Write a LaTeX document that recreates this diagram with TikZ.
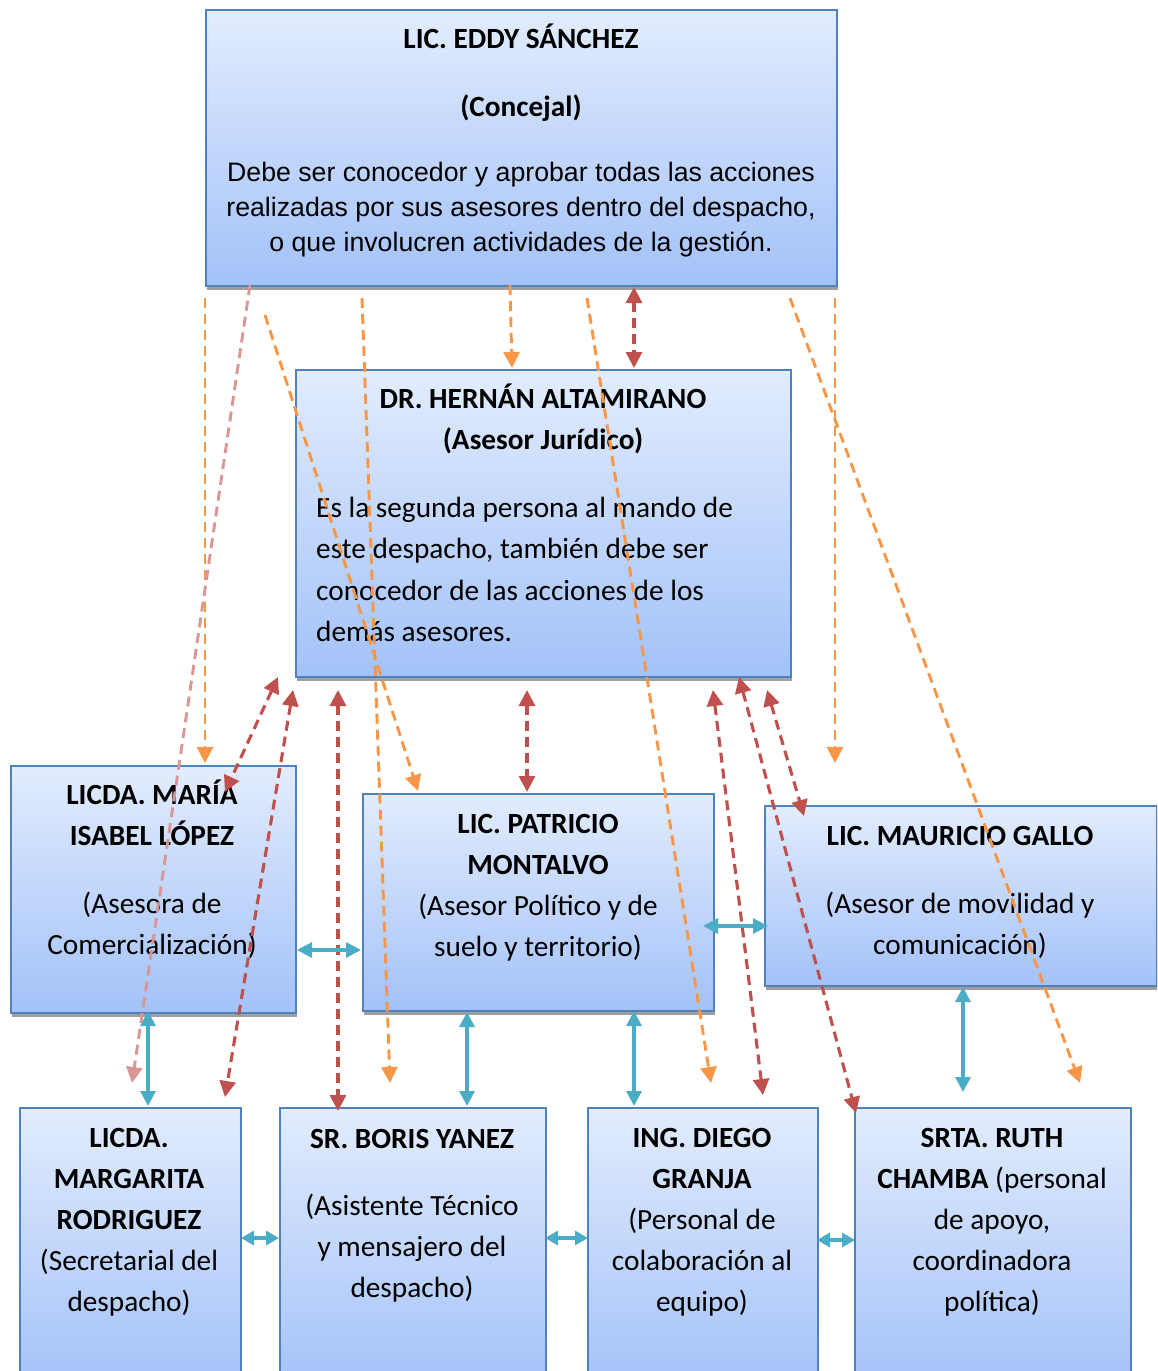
\documentclass[tikz,border=0pt]{standalone}
\usepackage{fontspec}
\setmainfont{Carlito}
\newfontfamily\arialfont{Liberation Sans}
\usetikzlibrary{arrows.meta,shadows}

\definecolor{boxedge}{RGB}{79,129,189}
\definecolor{boxtop}{RGB}{226,236,253}
\definecolor{boxbottom}{RGB}{163,194,249}
\definecolor{linkorange}{RGB}{247,150,70}
\definecolor{linkred}{RGB}{192,80,77}
\definecolor{linkpink}{RGB}{217,150,148}
\definecolor{linkteal}{RGB}{75,172,198}

\tikzset{
  card/.style={draw=boxedge, line width=1.8pt, top color=boxtop, bottom color=boxbottom,
    anchor=north west, inner sep=0pt,
    general shadow={fill=black!38, shadow xshift=1pt, shadow yshift=-4pt}},
  txt/.style={align=center, anchor=base, inner sep=0pt, font=\fontsize{29.3}{41}\selectfont},
  bodytxt/.style={align=left, anchor=base west, inner sep=0pt, font=\fontsize{29.3}{41.3}\selectfont},
  arialtxt/.style={align=center, anchor=base, inner sep=0pt, font=\arialfont\fontsize{26.7}{35}\selectfont},
  orangelink/.style={draw=linkorange, line width=2.9pt, dash pattern=on 10pt off 6pt,
    -{Triangle[length=16pt,width=16pt,fill=linkorange]}},
  pinklink/.style={draw=linkpink, line width=2.9pt, dash pattern=on 10pt off 6pt,
    -{Triangle[length=16pt,width=16pt,fill=linkpink]}},
  redlink/.style={draw=linkred, line width=3.1pt, dash pattern=on 10pt off 6pt,
    {Triangle[length=16pt,width=16pt,fill=linkred]}-{Triangle[length=16pt,width=16pt,fill=linkred]}},
  teallink/.style={draw=linkteal, line width=3.2pt,
    {Triangle[length=15pt,width=15pt,fill=linkteal]}-{Triangle[length=15pt,width=15pt,fill=linkteal]}},
  shortteal/.style={draw=linkteal, line width=3.2pt,
    {Triangle[length=13pt,width=14pt,fill=linkteal]}-{Triangle[length=13pt,width=14pt,fill=linkteal]}},
}

\begin{document}
\begin{tikzpicture}[x=1pt,y=-1pt]
\useasboundingbox (0,0) rectangle (1157,1371);
\clip (0,0) rectangle (1157,1371);

% boxes
\node[card, minimum width=631pt, minimum height=276pt] (eddy) at (205,9) {};
\node[card, minimum width=495pt, minimum height=307pt] (hernan) at (295,369) {};
\node[card, minimum width=285pt, minimum height=247pt] (maria) at (10,765) {};
\node[card, minimum width=351pt, minimum height=217pt] (patricio) at (362,793) {};
\node[card, minimum width=392pt, minimum height=180pt] (mauricio) at (764,805) {};
\node[card, minimum width=221pt, minimum height=280pt] (margarita) at (19,1107) {};
\node[card, minimum width=266pt, minimum height=280pt] (boris) at (279,1107) {};
\node[card, minimum width=230pt, minimum height=280pt] (diego) at (587,1107) {};
\node[card, minimum width=276pt, minimum height=280pt] (ruth) at (854,1107) {};

% texts
\node[txt] (eddyhead) at (521,116.5) {\textbf{LIC. EDDY SÁNCHEZ}\\[27pt]\textbf{(Concejal)}};
\node[arialtxt] (eddybody) at (521,251.5) {Debe ser conocedor y aprobar todas las acciones\\realizadas por sus asesores dentro del despacho,\\o que involucren actividades de la gestión.};
\node[txt] (hernanhead) at (543,449.5) {\textbf{DR. HERNÁN ALTAMIRANO}\\\textbf{(Asesor Jurídico)}};
\node[bodytxt] (hernanbody) at (316,641.5) {Es la segunda persona al mando de\\este despacho, también debe ser\\conocedor de las acciones de los\\demás asesores.};
\node[txt] (mariatxt) at (152,954.5) {\textbf{LICDA. MARÍA}\\\textbf{ISABEL LÓPEZ}\\[27pt](Asesora de\\Comercialización)};
\node[txt] (patriciotxt) at (538,956.5) {\textbf{LIC. PATRICIO}\\\textbf{MONTALVO}\\(Asesor Político y de\\suelo y territorio)};
\node[txt] (mauriciotxt) at (960,954.5) {\textbf{LIC. MAURICIO GALLO}\\[27pt](Asesor de movilidad y\\comunicación)};
\node[txt] (margaritatxt) at (129,1311.5) {\textbf{LICDA.}\\\textbf{MARGARITA}\\\textbf{RODRIGUEZ}\\(Secretarial del\\despacho)};
\node[txt] (boristxt) at (412,1297.5) {\textbf{SR. BORIS YANEZ}\\[26pt](Asistente Técnico\\y mensajero del\\despacho)};
\node[txt] (diegotxt) at (702,1311.5) {\textbf{ING. DIEGO}\\\textbf{GRANJA}\\(Personal de\\colaboración al\\equipo)};
\node[txt] (ruthtxt) at (992,1311.5) {\textbf{SRTA. RUTH}\\\textbf{CHAMBA} (personal\\de apoyo,\\coordinadora\\política)};

% link end points
\coordinate (o1a) at (205,298);  \coordinate (o1b) at (205,763);
\coordinate (o2a) at (510,285);  \coordinate (o2b) at (512,368);
\coordinate (o3a) at (835,298);  \coordinate (o3b) at (835,763);
\coordinate (o4a) at (265,315);  \coordinate (o4b) at (418,791);
\coordinate (o5a) at (362,298);  \coordinate (o5b) at (390,1083);
\coordinate (o6a) at (587,298);  \coordinate (o6b) at (711,1083);
\coordinate (o7a) at (790,298);  \coordinate (o7b) at (1080,1083);
\coordinate (p1a) at (250,285);  \coordinate (p1b) at (132,1083);

\coordinate (r1a) at (634,287);  \coordinate (r1b) at (634,368);
\coordinate (r2a) at (278,677);  \coordinate (r2b) at (225,792);
\coordinate (r3a) at (293,690);  \coordinate (r3b) at (225,1097);
\coordinate (r4a) at (338,690);  \coordinate (r4b) at (338,1111);
\coordinate (r5a) at (527,690);  \coordinate (r5b) at (527,792);
\coordinate (r6a) at (713,690);  \coordinate (r6b) at (763,1095);
\coordinate (r7a) at (739,677);  \coordinate (r7b) at (856,1113);
\coordinate (r8a) at (767,690);  \coordinate (r8b) at (804,816);

\coordinate (t1a) at (297,950);  \coordinate (t1b) at (361,950);
\coordinate (t2a) at (703,926);  \coordinate (t2b) at (768,926);
\coordinate (t3a) at (148,1011); \coordinate (t3b) at (148,1106);
\coordinate (t4a) at (467,1012); \coordinate (t4b) at (467,1106);
\coordinate (t5a) at (634,1011); \coordinate (t5b) at (634,1106);
\coordinate (t6a) at (963,987);  \coordinate (t6b) at (963,1092);
\coordinate (t7a) at (241,1238); \coordinate (t7b) at (279,1238);
\coordinate (t8a) at (545,1238); \coordinate (t8b) at (588,1238);
\coordinate (t9a) at (817,1240); \coordinate (t9b) at (855,1240);

% orange and pink links from the Concejal
\draw[orangelink] (o1a) -- (o1b);
\draw[orangelink] (o2a) -- (o2b);
\draw[orangelink] (o3a) -- (o3b);
\draw[orangelink] (o4a) -- (o4b);
\draw[orangelink] (o5a) -- (o5b);
\draw[orangelink] (o6a) -- (o6b);
\draw[orangelink] (o7a) -- (o7b);
\draw[pinklink] (p1a) -- (p1b);

% red links
\foreach \k in {1,...,8} \draw[redlink] (r\k a) -- (r\k b);

% teal links between colleagues
\foreach \k in {1,...,6} \draw[teallink] (t\k a) -- (t\k b);
\foreach \k in {7,8,9} \draw[shortteal] (t\k a) -- (t\k b);
\end{tikzpicture}
\end{document}
